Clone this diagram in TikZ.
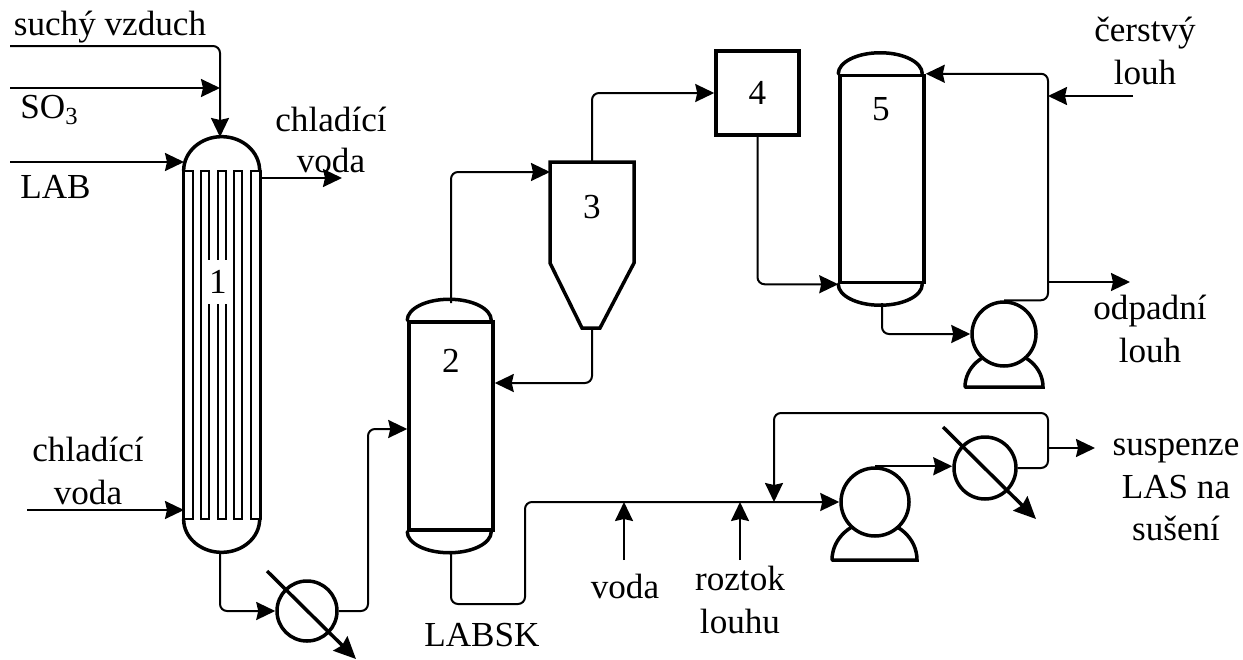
\documentclass[tikz,border=0pt]{standalone}
\usepackage{fontspec}
\setmainfont{Liberation Serif}
\usetikzlibrary{arrows.meta, positioning, calc}

\begin{document}
\begin{tikzpicture}[
    x=0.02cm, y=-0.02cm,
    font=\fontsize{20}{24}\selectfont,
    vessel/.style={rectangle, draw, line width=0.07cm, minimum width=#1*0.02cm, inner sep=0pt},
    wall/.style={line width=0.07cm, line cap=round},
    disc/.style={circle, draw, fill=white, line width=0.07cm, minimum size=#1*0.02cm, inner sep=0pt},
    tube/.style={line width=0.05cm},
    lbl/.style={align=center, inner sep=0pt},
    arr/.style={-{Stealth[length=0.38cm, width=0.36cm, inset=0.04cm]}, line width=0.04cm, rounded corners=0.14cm},
    cool/.style={-{Stealth[length=0.44cm, width=0.4cm, inset=0.05cm]}, line width=0.07cm}
]
\useasboundingbox (0,0) rectangle (1243,659);

% vessels
\node[minimum width=76*0.02cm, minimum height=348*0.02cm, inner sep=0pt] (k1) at (222,345) {};
\draw[wall] (k1.north west) arc[x radius=0.76cm, y radius=0.68cm, start angle=180, end angle=0];
\draw[wall] (k1.south west) arc[x radius=0.76cm, y radius=0.66cm, start angle=180, end angle=360];
\coordinate (k1top) at (220,137);
\coordinate (k1bot) at (220,552);
\foreach \xa/\xb in {184/193, 201/209, 218/226, 234/242, 251/260}{
    \draw[tube] (\xa,171) -- (\xa,519) -- (\xb,519) -- (\xb,171) -- cycle;
}
\draw[wall] (k1.north west) -- (k1.south west);
\draw[wall] (k1.north east) -- (k1.south east);
\node[fill=white, minimum width=22*0.02cm, minimum height=44*0.02cm, inner sep=0pt] (n1) at (218,282) {1};

\node[vessel=84, minimum height=208*0.02cm] (k2) at (451,426) {};
\draw[wall] (k2.north west) arc[x radius=0.84cm, y radius=0.42cm, start angle=180, end angle=0];
\draw[wall] (k2.south west) arc[x radius=0.84cm, y radius=0.42cm, start angle=180, end angle=360];
\coordinate (k2top) at (451,303);
\coordinate (k2bot) at (451,551);
\node (n2) at (451,361) {2};

\node[vessel=84, minimum height=207*0.02cm] (k5) at (882,179) {};
\draw[wall] (k5.north west) arc[x radius=0.84cm, y radius=0.42cm, start angle=180, end angle=0];
\draw[wall] (k5.south west) arc[x radius=0.84cm, y radius=0.42cm, start angle=180, end angle=360];
\coordinate (k5bot) at (882,303);
\node (n5) at (881,109) {5};

% cyclone
\draw[wall] (550,162) -- (634,162) -- (634,263) -- (600,328) -- (582,328) -- (550,263) -- cycle;
\coordinate (c3top) at (592,162);
\coordinate (c3bot) at (592,328);
\coordinate (c3in) at (550,172);
\node (n3) at (592,207) {3};

\node[rectangle, draw, line width=0.07cm, minimum width=83*0.02cm, minimum height=84*0.02cm, inner sep=0pt] (b4) at (757.5,93) {4};

% pumps
\draw[wall] (965,387) -- (1043,387) arc[x radius=0.78cm, y radius=0.7cm, start angle=0, end angle=180];
\node[disc=64] (p1) at (1004,334) {};
\draw[wall] (832,560) -- (917,560) arc[x radius=0.85cm, y radius=0.78cm, start angle=0, end angle=180];
\node[disc=68] (p2) at (875,502) {};

% coolers
\node[disc=60] (h1) at (307,611) {};
\draw[cool] (267,571) -- (356,659);
\node[disc=62] (h2) at (985,468) {};
\draw[cool] (943,427) -- (1036,519);

% free ends
\coordinate (air) at (10,46);
\coordinate (so) at (10,88);
\coordinate (somee) at (220,88);
\coordinate (lab) at (10,162);
\coordinate (labe) at (184,162);
\coordinate (cwin) at (27,510);
\coordinate (cwine) at (184,510);
\coordinate (cwout) at (260,178);
\coordinate (cwoute) at (342,178);
\coordinate (frs) at (1133,96);
\coordinate (frse) at (1048,96);
\coordinate (wst) at (1048,282);
\coordinate (wste) at (1130,282);
\coordinate (wat) at (624,560);
\coordinate (wate) at (624,502);
\coordinate (lye) at (740,560);
\coordinate (lyee) at (740,502);
\coordinate (rec) at (774,502);
\coordinate (sus) at (1048,448);
\coordinate (suse) at (1095,448);

% connectors
\draw[arr] (air) -| (k1top);
\draw[arr] (so) -- (somee);
\draw[arr] (lab) -- (labe);
\draw[arr] (cwin) -- (cwine);
\draw[arr] (cwout) -- (cwoute);
\draw[arr] (k1bot) |- (h1.west);
\draw[arr] (h1.east) -- (368,611) |- (k2.west |- 0,429);
\draw[arr] (k2top) |- (c3in);
\draw[arr] (c3top) |- (b4.west);
\draw[arr] (c3bot) |- (k2.east |- 0,383);
\draw[arr] (b4.south) |- (k5.south west);
\draw[arr] (k5bot) |- (p1.west);
\draw[arr] (p1.north) -| (frse) |- (k5.north east);
\draw[arr] (frs) -- (frse);
\draw[arr] (wst) -- (wste);
\draw[arr] (k2bot) |- (525,604) |- (p2.west);
\draw[arr] (wat) -- (wate);
\draw[arr] (lye) -- (lyee);
\draw[arr] (h2.east) -- (1048,468) |- (774,413) -- (rec);
\draw[arr] (p2.north) -- (p2.north -| h2.west);
\draw[arr] (sus) -- (suse);

% labels
\node[lbl] (t1) at (110,27) {suchý vzduch};
\node[lbl, anchor=west] (t2) at (20,110) {SO\textsubscript{3}};
\node[lbl, anchor=west] (t3) at (20,187) {LAB};
\node[lbl] (t4) at (331,140) {chladící\\[-1pt]voda};
\node[lbl] (t5) at (88,471) {chladící\\voda};
\node[lbl] (t6) at (482,635) {LABSK};
\node[lbl] (t7) at (625,586) {voda};
\node[lbl] (t8) at (740,600) {roztok\\louhu};
\node[lbl] (t9) at (1145,51) {čerstvý\\louh};
\node[lbl] (t10) at (1150,329) {odpadní\\louh};
\node[lbl] (t11) at (1176,490) {suspenze\\LAS na\\sušení};
\end{tikzpicture}
\end{document}
